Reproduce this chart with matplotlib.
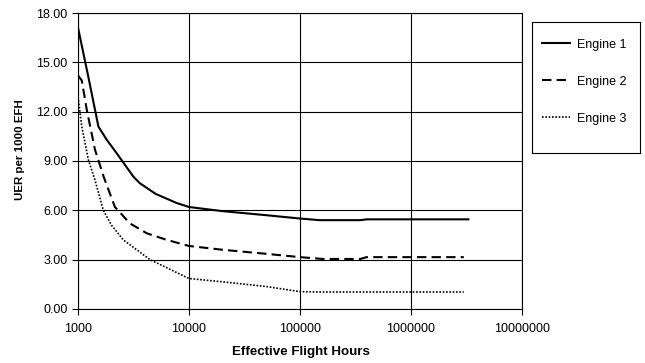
import matplotlib
matplotlib.use("Agg")
import matplotlib.pyplot as plt
from matplotlib.ticker import FixedLocator, FuncFormatter

plt.rcParams['font.family'] = ['Liberation Sans', 'DejaVu Sans']

# data
hours_1 = [1000, 1240, 1525, 1810, 2230, 3150, 3600, 5000, 7700, 10000,
           20000, 50000, 100000, 150000, 350000, 400000, 3300000]
engine_1 = [17.1, 14.1, 11.1, 10.3, 9.47, 8.05, 7.65, 7.0, 6.45, 6.2,
            5.95, 5.7, 5.5, 5.4, 5.4, 5.45, 5.45]

hours_2 = [1000, 1080, 1200, 1420, 1710, 2150, 2940, 4170, 6300, 10000,
           20000, 50000, 100000, 160000, 350000, 400000, 3000000]
engine_2 = [14.2, 13.9, 12.1, 9.7, 8.0, 6.2, 5.2, 4.6, 4.2, 3.83,
            3.6, 3.35, 3.15, 3.04, 3.04, 3.15, 3.15]

hours_3 = [1000, 1080, 1240, 1420, 1690, 2000, 2560, 4450, 10000,
           20000, 50000, 100000, 150000, 3000000]
engine_3 = [12.9, 11.1, 9.06, 7.85, 6.0, 5.1, 4.2, 3.0, 1.85,
            1.65, 1.36, 1.05, 1.03, 1.03]

y_ticks = [0, 3, 6, 9, 12, 15, 18]
x_ticks = [1000, 10000, 100000, 1000000, 10000000]

fig = plt.figure(figsize=(6.45, 3.63), dpi=100)
ax = fig.add_axes([0.121, 0.149, 0.688, 0.815])

l1, = ax.plot(hours_1, engine_1, color='black', lw=1.5, linestyle='-', label='Engine 1')
l2, = ax.plot(hours_2, engine_2, color='black', lw=1.5, linestyle=(0, (4.5, 2.5)), label='Engine 2')
l3, = ax.plot(hours_3, engine_3, color='black', lw=1.2, linestyle=(0, (1, 1)), label='Engine 3')

ax.set_xscale('log')
ax.set_xlim(1000, 10000000)
ax.set_ylim(0, 18)
ax.xaxis.set_major_locator(FixedLocator(x_ticks))
ax.xaxis.set_minor_locator(FixedLocator([]))
ax.xaxis.set_major_formatter(FuncFormatter(lambda v, p: f"{int(round(v))}"))
ax.set_yticks(y_ticks)
ax.yaxis.set_major_formatter(FuncFormatter(lambda v, p: f"{v:.2f}"))

ax.grid(True, color='black', linewidth=0.8)
ax.set_axisbelow(True)
for s in ax.spines.values():
    s.set_color('black')
    s.set_linewidth(0.8)

ax.tick_params(axis='both', labelsize=9, length=4, width=0.8, direction='out', colors='black')
ax.tick_params(axis='x', pad=6)

ax.set_xlabel("Effective Flight Hours", fontsize=9.6, fontweight='bold')
ax.set_ylabel("UER per 1000 EFH", fontsize=8.25, fontweight='bold')
ax.xaxis.set_label_coords(0.502, -0.125)
ax.yaxis.set_label_coords(-0.119, 0.537)

# legend box
lax = fig.add_axes([0.825, 0.579, 0.167, 0.361])
lax.set_xticks([])
lax.set_yticks([])
for s in lax.spines.values():
    s.set_color('black')
    s.set_linewidth(0.8)
lax.legend(handles=[l1, l2, l3], loc='center left', frameon=False, fontsize=9,
           handlelength=2.24, handletextpad=0.55, labelspacing=2.0,
           borderpad=0.0, borderaxespad=0.0, bbox_to_anchor=(0.093, 0.542))

fig.savefig("out.png", dpi=100)
